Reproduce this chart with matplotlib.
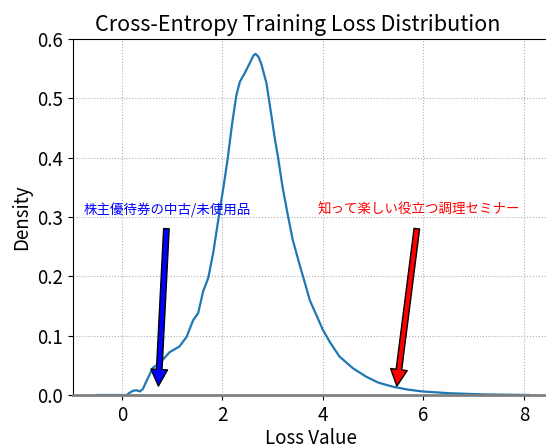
import matplotlib
matplotlib.use("Agg")
import matplotlib.pyplot as plt

plt.rcParams['font.family'] = ['Noto Sans CJK JP', 'DejaVu Sans']

loss_x = [-0.5, 0.1, 0.16, 0.22, 0.29, 0.36, 0.42, 0.5, 0.62, 0.76, 0.95, 1.15, 1.29,
          1.42, 1.52, 1.62, 1.72, 1.82, 1.92, 2.05, 2.11, 2.2, 2.28, 2.35, 2.45, 2.55,
          2.62, 2.66, 2.72, 2.78, 2.88, 2.97, 3.04, 3.11, 3.2, 3.3, 3.4, 3.54, 3.64,
          3.74, 3.87, 4.0, 4.15, 4.33, 4.6, 4.86, 5.1, 5.39, 5.7, 5.98, 6.52, 7.2, 8.1]
density = [0.0, 0.0, 0.004, 0.007, 0.008, 0.006, 0.01, 0.025, 0.046, 0.054, 0.072, 0.082,
           0.098, 0.126, 0.138, 0.175, 0.197, 0.24, 0.295, 0.365, 0.40, 0.46, 0.505,
           0.528, 0.543, 0.56, 0.572, 0.575, 0.57, 0.557, 0.525, 0.475, 0.435, 0.40,
           0.35, 0.305, 0.262, 0.219, 0.19, 0.16, 0.135, 0.11, 0.088, 0.065, 0.045,
           0.031, 0.021, 0.014, 0.009, 0.006, 0.003, 0.001, 0.0]

ann_texts = ['株主優待券の中古/未使用品', '知って楽しい役立つ調理セミナー']
ann_xy = [(0.72, 0.0), (5.45, 0.0)]
ann_xytext = [(0.9, 0.3), (5.9, 0.3)]
ann_colors = ['blue', 'red']

fig = plt.figure(figsize=(5.46, 4.46), dpi=100)
ax = fig.add_axes([73/546, 51/446, (549-73)/546, (395-39)/446])

ax.plot(loss_x, density, color='#1f77b4', lw=1.6)
ax.set_xlim(-0.97, 8.5)
ax.set_ylim(0, 0.6)
ax.set_xticks([0, 2, 4, 6, 8])
ax.set_yticks([0.0, 0.1, 0.2, 0.3, 0.4, 0.5, 0.6])
ax.grid(True, linestyle=':', color='#b0b0b0', lw=0.8)
ax.tick_params(labelsize=13.5)
ax.spines['bottom'].set_color('#808080')
ax.spines['bottom'].set_linewidth(2)

ax.set_title('Cross-Entropy Training Loss Distribution', fontsize=15.5, x=0.473)
ax.set_xlabel('Loss Value', fontsize=13.5, labelpad=2)
ax.set_ylabel('Density', fontsize=13.5)

for t, xy, xyt, c in zip(ann_texts, ann_xy, ann_xytext, ann_colors):
    ax.annotate(t, xy=xy, xytext=xyt, color=c, fontsize=9.7, ha='center', va='bottom',
                arrowprops=dict(facecolor=c, edgecolor='black', shrink=0.05))

fig.savefig('out.png', dpi=100)
